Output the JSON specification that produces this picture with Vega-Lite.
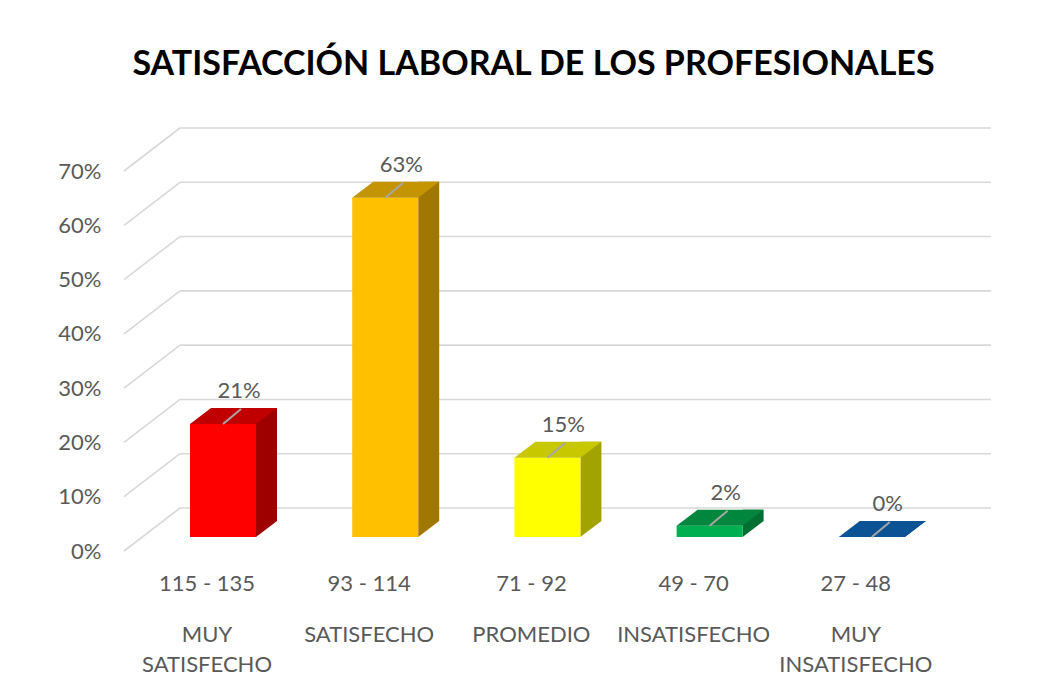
{
  "$schema": "https://vega.github.io/schema/vega-lite/v6.json",
  "autosize": {"type": "none"},
  "width": 811,
  "height": 380,
  "padding": {"left": 180, "top": 157, "right": 52, "bottom": 157},
  "background": "white",
  "title": {
    "text": "SATISFACCIÓN LABORAL DE LOS PROFESIONALES",
    "font": "Lato",
    "fontSize": 34,
    "fontWeight": "bold",
    "color": "#000000",
    "anchor": "middle",
    "frame": "group",
    "offset": 43,
    "dx": -52
  },
  "data": {
    "values": [
      {"rango": "115 - 135", "nivel": "MUY SATISFECHO", "valor": 0.2083},
      {"rango": "93 - 114", "nivel": "SATISFECHO", "valor": 0.625},
      {"rango": "71 - 92", "nivel": "PROMEDIO", "valor": 0.1458},
      {"rango": "49 - 70", "nivel": "INSATISFECHO", "valor": 0.0208},
      {"rango": "27 - 48", "nivel": "MUY INSATISFECHO", "valor": 0}
    ]
  },
  "config": {
    "view": {"stroke": null},
    "axis": {"labelFont": "Lato", "labelFontSize": 22, "labelColor": "#595959", "domain": false, "ticks": false, "grid": false, "title": null}
  },
  "layer": [
    {
      "data": {"values": [{"v": 0}, {"v": 0.1}, {"v": 0.2}, {"v": 0.3}, {"v": 0.4}, {"v": 0.5}, {"v": 0.6}, {"v": 0.7}]},
      "mark": {"type": "rule", "color": "#D9D9D9", "strokeWidth": 1.6, "yOffset": -29},
      "encoding": {
        "y": {"field": "v", "type": "quantitative", "title": null,
              "scale": {"domain": [0, 0.7], "nice": false},
              "axis": {"values": [0, 0.1, 0.2, 0.3, 0.4, 0.5, 0.6, 0.7], "format": ".0%", "labelPadding": 79, "labelOffset": 14}}
      }
    },
    {
      "data": {"values": [{"v": 0}, {"v": 0.1}, {"v": 0.2}, {"v": 0.3}, {"v": 0.4}, {"v": 0.5}, {"v": 0.6}, {"v": 0.7}]},
      "mark": {"type": "point", "shape": "M-0.99,0.43L-0.43,0", "size": 40000, "filled": false, "stroke": "#D9D9D9", "strokeWidth": 1.6, "opacity": 1, "yOffset": -29},
      "encoding": {
        "x": {"datum": "115 - 135", "type": "nominal", "title": null,
              "axis": {"labelPadding": 36, "labelOffset": -16, "labelAngle": 0}},
        "y": {"field": "v", "type": "quantitative", "title": null, "scale": {"domain": [0, 0.7], "nice": false},
              "axis": {"values": [0, 0.1, 0.2, 0.3, 0.4, 0.5, 0.6, 0.7], "format": ".0%", "labelPadding": 79, "labelOffset": 14}}
      }
    },
    {
      "mark": {"type": "bar", "width": 21, "xOffset": 43.5, "yOffset": -16, "y2Offset": -16},
      "encoding": {
        "x": {"field": "rango", "type": "nominal", "sort": null, "title": null,
              "scale": {"paddingInner": 0.593, "paddingOuter": 0.2965, "align": 0.104},
              "axis": {"labelPadding": 36, "labelOffset": -16, "labelAngle": 0}},
        "y": {"field": "valor", "type": "quantitative", "title": null, "scale": {"domain": [0, 0.7], "nice": false},
              "axis": {"values": [0, 0.1, 0.2, 0.3, 0.4, 0.5, 0.6, 0.7], "format": ".0%", "labelPadding": 79, "labelOffset": 14}},
        "y2": {"datum": 0},
        "color": {"field": "rango", "type": "nominal", "sort": null, "legend": null,
                  "scale": {"domain": ["115 - 135", "93 - 114", "71 - 92", "49 - 70", "27 - 48"], "range": ["#9E0000", "#A07800", "#A3A300", "#006F32", "#00457E"]}}
      }
    },
    {
      "mark": {"type": "point", "shape": "M0.611,0L0.611,-0.296L1,-0.296Z", "size": 11664, "filled": true, "opacity": 1},
      "encoding": {
        "x": {"field": "rango", "type": "nominal", "sort": null, "title": null,
              "axis": {"labelPadding": 36, "labelOffset": -16, "labelAngle": 0}},
        "y": {"datum": 0, "type": "quantitative", "title": null, "scale": {"domain": [0, 0.7], "nice": false},
              "axis": {"values": [0, 0.1, 0.2, 0.3, 0.4, 0.5, 0.6, 0.7], "format": ".0%", "labelPadding": 79, "labelOffset": 14}},
        "color": {"field": "rango", "type": "nominal", "sort": null, "legend": null,
                  "scale": {"domain": ["115 - 135", "93 - 114", "71 - 92", "49 - 70", "27 - 48"], "range": ["#9E0000", "#A07800", "#A3A300", "#006F32", "#00457E"]}}
      }
    },
    {
      "mark": {"type": "bar"},
      "encoding": {
        "x": {"field": "rango", "type": "nominal", "sort": null, "title": null,
              "axis": {"labelPadding": 36, "labelOffset": -16, "labelAngle": 0}},
        "y": {"field": "valor", "type": "quantitative", "title": null, "scale": {"domain": [0, 0.7], "nice": false},
              "axis": {"values": [0, 0.1, 0.2, 0.3, 0.4, 0.5, 0.6, 0.7], "format": ".0%", "labelPadding": 79, "labelOffset": 14}},
        "y2": {"datum": 0},
        "color": {"field": "rango", "type": "nominal", "sort": null, "legend": null,
                  "scale": {"domain": ["115 - 135", "93 - 114", "71 - 92", "49 - 70", "27 - 48"], "range": ["#FF0000", "#FFC000", "#FFFF00", "#00B050", "#0070C0"]}}
      }
    },
    {
      "mark": {"type": "point", "shape": "M-0.611,0L0.611,0L1,-0.296L-0.222,-0.296Z", "size": 11664, "filled": true, "opacity": 1},
      "encoding": {
        "x": {"field": "rango", "type": "nominal", "sort": null, "title": null,
              "axis": {"labelPadding": 36, "labelOffset": -16, "labelAngle": 0}},
        "y": {"field": "valor", "type": "quantitative", "title": null, "scale": {"domain": [0, 0.7], "nice": false},
              "axis": {"values": [0, 0.1, 0.2, 0.3, 0.4, 0.5, 0.6, 0.7], "format": ".0%", "labelPadding": 79, "labelOffset": 14}},
        "color": {"field": "rango", "type": "nominal", "sort": null, "legend": null,
                  "scale": {"domain": ["115 - 135", "93 - 114", "71 - 92", "49 - 70", "27 - 48"], "range": ["#C00000", "#C49500", "#C8C800", "#00863D", "#0B5394"]}}
      }
    },
    {
      "mark": {"type": "point", "shape": "M0,0L0.333,-0.278", "size": 11664, "filled": false, "stroke": "#A6A6A6", "strokeWidth": 2, "opacity": 1},
      "encoding": {
        "x": {"field": "rango", "type": "nominal", "sort": null, "title": null,
              "axis": {"labelPadding": 36, "labelOffset": -16, "labelAngle": 0}},
        "y": {"field": "valor", "type": "quantitative", "title": null, "scale": {"domain": [0, 0.7], "nice": false},
              "axis": {"values": [0, 0.1, 0.2, 0.3, 0.4, 0.5, 0.6, 0.7], "format": ".0%", "labelPadding": 79, "labelOffset": 14}}
      }
    },
    {
      "mark": {"type": "text", "font": "Lato", "fontSize": 22, "color": "#595959", "dx": 16, "dy": -33, "baseline": "middle", "align": "center"},
      "encoding": {
        "x": {"field": "rango", "type": "nominal", "sort": null, "title": null,
              "axis": {"labelPadding": 36, "labelOffset": -16, "labelAngle": 0}},
        "y": {"field": "valor", "type": "quantitative", "title": null, "scale": {"domain": [0, 0.7], "nice": false},
              "axis": {"values": [0, 0.1, 0.2, 0.3, 0.4, 0.5, 0.6, 0.7], "format": ".0%", "labelPadding": 79, "labelOffset": 14}},
        "text": {"field": "valor", "type": "quantitative", "format": ".0%"}
      }
    },
    {
      "mark": {"type": "text", "font": "Lato", "fontSize": 22, "color": "#595959", "dx": -16, "dy": 88, "baseline": "top", "align": "center", "lineBreak": " ", "lineHeight": 30},
      "encoding": {
        "x": {"field": "rango", "type": "nominal", "sort": null, "title": null,
              "axis": {"labelPadding": 36, "labelOffset": -16, "labelAngle": 0}},
        "y": {"datum": 0, "type": "quantitative", "title": null, "scale": {"domain": [0, 0.7], "nice": false},
              "axis": {"values": [0, 0.1, 0.2, 0.3, 0.4, 0.5, 0.6, 0.7], "format": ".0%", "labelPadding": 79, "labelOffset": 14}},
        "text": {"field": "nivel", "type": "nominal"}
      }
    }
  ],
  "resolve": {"scale": {"color": "independent"}}
}
